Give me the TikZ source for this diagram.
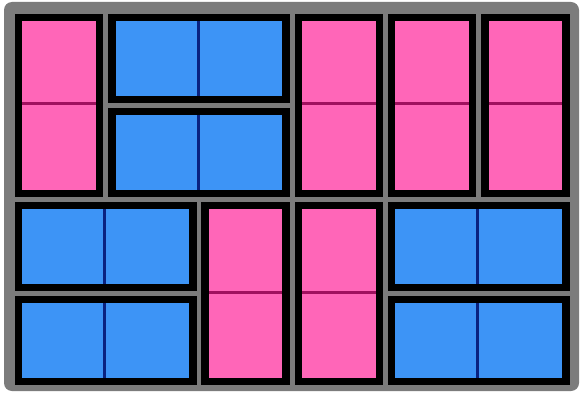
\documentclass[tikz,border=0pt]{standalone}
\definecolor{pinkfill}{HTML}{FF66B8}
\definecolor{pinkline}{HTML}{A0105F}
\definecolor{bluefill}{HTML}{3D94F6}
\definecolor{blueline}{HTML}{0A2280}
\definecolor{framegray}{HTML}{7C7C7C}
\tikzset{
  domborder/.style={draw=black,line width=7.5pt,line join=miter},
  divline/.style={line width=3pt},
  framebox/.style={fill=framegray,rounded corners=8pt},
}
\begin{document}
\begin{tikzpicture}[x=1pt,y=-1pt]
\useasboundingbox (0,0) rectangle (581,393);
\fill[white] (0,0) rectangle (581,393);
\fill[framebox] (4,2) rectangle (579,391);
% pink vertical dominoes
\foreach \c/\r in {0/0,3/0,4/0,5/0,2/2,3/2}{
  \pgfmathsetmacro\xa{12.5+93.25*\c}
  \pgfmathsetmacro\xb{\xa+93.25}
  \pgfmathsetmacro\ya{11.5+94*\r}
  \pgfmathsetmacro\yb{\ya+188}
  \pgfmathsetmacro\ym{(\ya+\yb)/2-1.5}
  \fill[pinkfill] (\xa+5,\ya+5) rectangle (\xb-5,\yb-5);
  \draw[divline,pinkline] (\xa+7,\ym) -- (\xb-7,\ym);
  \draw[domborder] (\xa+6.2,\ya+6.2) rectangle (\xb-6.2,\yb-6.2);
}
% blue horizontal dominoes
\foreach \c/\r in {1/0,1/1,0/2,0/3,4/2,4/3}{
  \pgfmathsetmacro\xa{12.5+93.25*\c}
  \pgfmathsetmacro\xb{\xa+186.5}
  \pgfmathsetmacro\ya{11.5+94*\r}
  \pgfmathsetmacro\yb{\ya+94}
  \pgfmathsetmacro\xm{(\xa+\xb)/2-1}
  \fill[bluefill] (\xa+5,\ya+5) rectangle (\xb-5,\yb-5);
  \draw[divline,blueline] (\xm,\ya+7) -- (\xm,\yb-7);
  \draw[domborder] (\xa+6.2,\ya+6.2) rectangle (\xb-6.2,\yb-6.2);
}
\end{tikzpicture}
\end{document}
